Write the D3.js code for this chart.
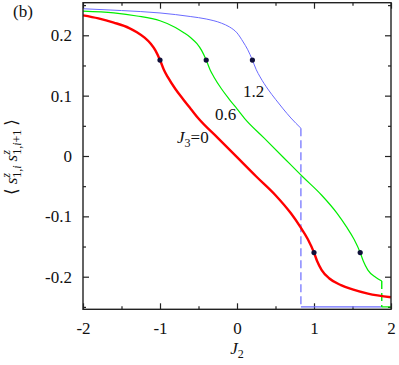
<!DOCTYPE html>
<html>
<head>
<meta charset="utf-8">
<script src="https://cdn.jsdelivr.net/npm/d3@7"></script>
<style>
  html,body{margin:0;padding:0;background:#fff;}
  svg{display:block;}
  svg text{font-family:'Liberation Serif','DejaVu Serif',serif;fill:#111;}
</style>
</head>
<body>
<div id="chart"></div>
<script>
// values: [J2, <s s>]
const redJ0 = [[-2.0,0.233],[-1.8,0.228],[-1.6,0.221],[-1.4,0.212],[-1.3,0.205],[-1.2,0.196],[-1.12,0.186],
  [-1.06,0.175],[-1.0,0.159],[-0.95,0.143],[-0.9,0.131],[-0.8,0.111],[-0.7,0.094],[-0.6,0.078],[-0.5,0.062],
  [-0.25,0.030],[0.0,-0.002],[0.25,-0.034],[0.5,-0.065],[0.7,-0.095],[0.82,-0.117],[0.92,-0.138],[1.0,-0.160],
  [1.04,-0.174],[1.1,-0.189],[1.2,-0.203],[1.35,-0.214],[1.5,-0.221],[1.7,-0.228],[2.0,-0.234]];
const greenJ06 = [[-2.0,0.240],[-1.6,0.237],[-1.3,0.232],[-1.0,0.224],[-0.8,0.213],[-0.7,0.205],[-0.6,0.196],
  [-0.52,0.186],[-0.46,0.175],[-0.4,0.159],[-0.35,0.143],[-0.3,0.131],[-0.2,0.111],[-0.1,0.094],[0.0,0.078],
  [0.1,0.062],[0.35,0.030],[0.6,-0.002],[0.85,-0.034],[1.1,-0.065],[1.3,-0.095],[1.42,-0.117],[1.52,-0.138],
  [1.6,-0.160],[1.64,-0.174],[1.7,-0.189],[1.8,-0.201],[1.88,-0.207]];
const blueJ12 = [[-2.0,0.244],[-1.5,0.241],[-1.0,0.237],[-0.6,0.231],[-0.4,0.227],[-0.2,0.220],[-0.1,0.214],
  [0.0,0.204],[0.08,0.189],[0.14,0.176],[0.2,0.159],[0.25,0.143],[0.3,0.131],[0.4,0.111],[0.5,0.094],
  [0.6,0.078],[0.7,0.063],[0.83,0.046]];
const blueJump = [[0.83,0.046],[0.83,-0.25]];
const blueFloor = [[0.83,-0.25],[1.88,-0.25]];
const greenJump = [[1.88,-0.207],[1.88,-0.25]];
const greenFloor = [[1.88,-0.25],[2.0,-0.25]];
const dots = [[-1.0,0.159],[-0.4,0.159],[0.2,0.159],[1.0,-0.160],[1.6,-0.160]];

const xMajor = [-2,-1,0,1,2];
const xMinor = [-1.5,-0.5,0.5,1.5];
const yMajor = [-0.2,-0.1,0,0.1,0.2];
const yMinor = [-0.25,-0.15,-0.05,0.05,0.15,0.25];

const W = 399, H = 365;
const L = 83, R = 391, T = 2.7, B = 309.3;
const FONT = "'Liberation Serif','DejaVu Serif',serif";
const FS = 17;
const svg = d3.select('#chart').append('svg').attr('width',W).attr('height',H);
const x = d3.scaleLinear().domain([-2,2]).range([L,R]);
const y = d3.scaleLinear().domain([-0.254,0.254]).range([B,T]);

const axisCol = '#222';
function styleAxis(g){
  g.attr('font-family',FONT).attr('font-size',FS);
  g.select('.domain').remove();
  g.selectAll('line').attr('stroke',axisCol).attr('stroke-width',1.2);
  g.selectAll('text').attr('fill','#111');
}
const fmt = d => String(d);
svg.append('g').attr('transform',`translate(0,${B})`)
  .call(d3.axisBottom(x).tickValues(xMajor).tickSize(-6).tickPadding(13).tickFormat(fmt)).call(styleAxis);
svg.append('g').attr('transform',`translate(0,${B})`)
  .call(d3.axisBottom(x).tickValues(xMinor).tickSize(-3).tickFormat('')).call(styleAxis);
svg.append('g').attr('transform',`translate(0,${T})`)
  .call(d3.axisTop(x).tickValues(xMajor).tickSize(-6).tickFormat('')).call(styleAxis);
svg.append('g').attr('transform',`translate(0,${T})`)
  .call(d3.axisTop(x).tickValues(xMinor).tickSize(-3).tickFormat('')).call(styleAxis);
svg.append('g').attr('transform',`translate(${L},0)`)
  .call(d3.axisLeft(y).tickValues(yMajor).tickSize(-6).tickPadding(11).tickFormat(fmt)).call(styleAxis);
svg.append('g').attr('transform',`translate(${L},0)`)
  .call(d3.axisLeft(y).tickValues(yMinor).tickSize(-3).tickFormat('')).call(styleAxis);
svg.append('g').attr('transform',`translate(${R},0)`)
  .call(d3.axisRight(y).tickValues(yMajor).tickSize(-6).tickFormat('')).call(styleAxis);
svg.append('g').attr('transform',`translate(${R},0)`)
  .call(d3.axisRight(y).tickValues(yMinor).tickSize(-3).tickFormat('')).call(styleAxis);

const line = d3.line().x(d=>x(d[0])).y(d=>y(d[1])).curve(d3.curveMonotoneX);
const straight = d3.line().x(d=>x(d[0])).y(d=>y(d[1]));
const plot = svg.append('g');
const BLUE = '#6b6bff', GREEN = '#00ee00', RED = '#ff0000';
plot.append('path').datum(blueJ12).attr('d',line).attr('fill','none').attr('stroke',BLUE).attr('stroke-width',1);
plot.append('path').datum(blueJump).attr('d',straight).attr('fill','none').attr('stroke',BLUE).attr('stroke-width',1.2).attr('stroke-dasharray','8 4');
plot.append('path').datum(blueFloor).attr('d',straight).attr('fill','none').attr('stroke',BLUE).attr('stroke-width',1.2);
plot.append('path').datum(greenJ06).attr('d',line).attr('fill','none').attr('stroke',GREEN).attr('stroke-width',1.2);
plot.append('path').datum(greenJump).attr('d',straight).attr('fill','none').attr('stroke',GREEN).attr('stroke-width',1.4).attr('stroke-dasharray','8 4');
plot.append('path').datum(greenFloor).attr('d',straight).attr('fill','none').attr('stroke',GREEN).attr('stroke-width',1.2);
plot.append('path').datum(redJ0).attr('d',line).attr('fill','none').attr('stroke',RED).attr('stroke-width',2.4);
plot.selectAll('circle').data(dots).join('circle')
  .attr('cx',d=>x(d[0])).attr('cy',d=>y(d[1])).attr('r',2.6).attr('fill','#10103a');

// frame
svg.append('rect').attr('x',L).attr('y',T).attr('width',R-L).attr('height',B-T)
  .attr('fill','none').attr('stroke',axisCol).attr('stroke-width',1.4);

// labels
const lab = svg.append('g').attr('font-family',FONT).attr('font-size',FS);
lab.append('text').attr('x',13).attr('y',17).text('(b)');

const xl = lab.append('text').attr('x',237).attr('y',354).attr('text-anchor','middle');
xl.append('tspan').attr('font-style','italic').text('J');
xl.append('tspan').attr('font-size',12).attr('dy',4).text('2');

const j3 = lab.append('text').attr('x',177).attr('y',143);
j3.append('tspan').attr('font-style','italic').text('J');
j3.append('tspan').attr('font-size',12).attr('dy',4).text('3');
j3.append('tspan').attr('dy',-4).text('=0');
lab.append('text').attr('x',215).attr('y',120).text('0.6');
lab.append('text').attr('x',243).attr('y',97).text('1.2');

// y label: < s^z_{1,i} s^z_{1,i+1} >
const yg = lab.append('g').attr('transform','translate(17,157) rotate(-90)');
const inner = yg.append('g');
let cx = 0;
function put(parts, dy, size){
  const t = inner.append('text').attr('x',cx).attr('y',dy).attr('font-size',size);
  parts.forEach(([s,it])=>t.append('tspan').attr('font-style',it?'italic':'normal').text(s));
  return t.node().getComputedTextLength();
}
function stack(sup, sub){
  const a = put(sup,-7,12), b = put(sub,4,12);
  cx += Math.max(a,b);
}
cx += put([['⟨',false]],0,FS) + 4;
cx += put([['s',true]],0,FS);
stack([['z',true]],[['1,',false],['i',true]]);
cx += 4;
cx += put([['s',true]],0,FS);
stack([['z',true]],[['1,',false],['i',true],['+1',false]]);
cx += 4;
cx += put([['⟩',false]],0,FS);
inner.attr('transform',`translate(${-cx/2},0)`);
</script>
</body>
</html>
